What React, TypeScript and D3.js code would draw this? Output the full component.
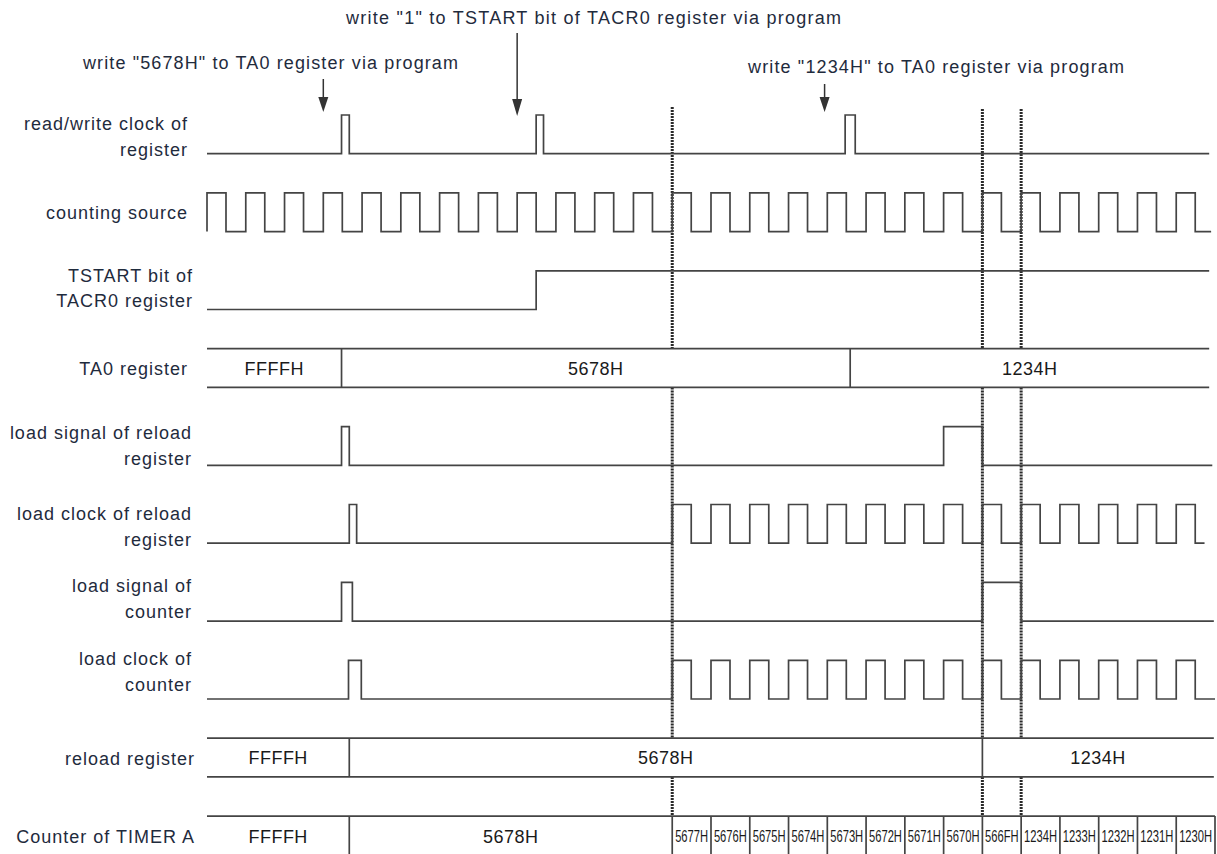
import React from 'react';
import * as d3 from 'd3';

// ---------- data (time unit = one period of the counting source) ----------
const ROW_LABELS: string[][] = [
  ['read/write clock of', 'register'],
  ['counting source'],
  ['TSTART bit of', 'TACR0 register'],
  ['TA0 register'],
  ['load signal of reload', 'register'],
  ['load clock of reload', 'register'],
  ['load signal of', 'counter'],
  ['load clock of', 'counter'],
  ['reload register'],
  ['Counter of TIMER A'],
];

const RW_CLOCK_PULSES: [number, number][] = [[3.47, 3.67], [8.49, 8.68], [16.46, 16.72]];
const COUNT_SOURCE_RISES = [0, 1, 2, 3, 4, 5, 6, 7, 8, 9, 10, 11, 12, 13, 14, 15, 16, 17, 18, 19, 20, 21, 22, 23, 24, 25];
const CLOCK_HIGH = 0.49;
const TSTART_PULSES: [number, number][] = [[8.49, 30]];
const TA0_EDGES = [3.47, 16.59];
const TA0_VALUES = ['FFFFH', '5678H', '1234H'];
const RELOAD_SIGNAL_PULSES: [number, number][] = [[3.47, 3.67], [19.0, 20.0]];
const RELOAD_CLOCK_PULSES: [number, number][] = [[3.67, 3.86]];
const RELOAD_CLOCK_RISES = [12, 13, 14, 15, 16, 17, 18, 19, 20, 21, 22, 23, 24, 25];
const COUNTER_SIGNAL_PULSES: [number, number][] = [[3.47, 3.75], [20.0, 21.0]];
const COUNTER_CLOCK_PULSES: [number, number][] = [[3.65, 3.98]];
const COUNTER_CLOCK_RISES = [12, 13, 14, 15, 16, 17, 18, 19, 20, 21, 22, 23, 24, 25];
const RELOAD_REG_EDGES = [3.67, 20.0];
const RELOAD_REG_VALUES = ['FFFFH', '5678H', '1234H'];
const COUNTER_EDGES = [3.67, 12, 13, 14, 15, 16, 17, 18, 19, 20, 21, 22, 23, 24, 25, 26];
const COUNTER_VALUES = ['FFFFH', '5678H', '5677H', '5676H', '5675H', '5674H', '5673H', '5672H', '5671H', '5670H', '566FH', '1234H', '1233H', '1232H', '1231H', '1230H'];
const MARKER_TIMES = [12, 20, 21];
const ROW_ENDS = [25.85, 25.9, 25.85, 25.85, 25.93, 25.73, 25.97, 26.0, 25.97, 26.0];

const ANNOTATIONS = [
  { text: 'write "5678H" to TA0 register via program', t: 3.0 },
  { text: 'write "1" to TSTART bit of TACR0 register via program', t: 8.0 },
  { text: 'write "1234H" to TA0 register via program', t: 15.93 },
];

// ---------- layout / style ----------
const W = 1217, H = 854;
const ROW_H = 38.7;
const WAVE = '#444444';
const TEXT = '#1f2b3d';
const FONT = '"Liberation Sans", Arial, Helvetica, sans-serif';
const LABEL_X = [188, 188, 193, 188, 192, 192, 192, 192, 195, 195];
const LABEL_CY = [[123, 149], [212], [275, 300], [368.5], [432, 458], [513, 539], [585, 611], [658, 684], [758], [836]];
const ANN_LAYOUT = [
  { x: 83, y: 69, w: 375, top: 79, headTop: 97, tip: 112 },
  { x: 346, y: 24, w: 495, top: 33, headTop: 99, tip: 116 },
  { x: 748, y: 73, w: 376, top: 84, headTop: 97, tip: 112 },
];
const MARKER_TOPS = [107, 109, 109];

export default function App() {
  const x = d3.scaleLinear().domain([0, 26]).range([207, 1215]);
  const rowTop = d3.scaleLinear().domain([0, 1]).range([115, 192.9]);
  const line = d3.line<[number, number]>().x(d => x(d[0])).y(d => d[1]).curve(d3.curveStepAfter);

  const wave = (row: number, pulses: [number, number][]) => {
    const hi = rowTop(row), lo = hi + ROW_H, end = ROW_ENDS[row];
    const pts: [number, number][] = [[0, lo]];
    let level = lo;
    pulses.forEach(([a, b]) => {
      pts.push([a, hi]); level = hi;
      if (b < end) { pts.push([b, lo]); level = lo; }
    });
    pts.push([end, level]);
    return <path key={'w' + row} d={line(pts) || ''} fill="none" stroke={WAVE} strokeWidth={1.7} />;
  };
  const clockPulses = (rises: number[]): [number, number][] => rises.map(r => [r, r + CLOCK_HIGH]);

  const bus = (row: number, edges: number[], values: string[], open = false) => {
    const top = rowTop(row), bot = top + ROW_H, end = ROW_ENDS[row];
    const bounds = [0, ...edges.filter(e => e < end), end];
    const els: JSX.Element[] = [];
    els.push(<line key="t" x1={x(0)} x2={x(end)} y1={top} y2={top} stroke={WAVE} strokeWidth={1.7} />);
    if (!open) els.push(<line key="b" x1={x(0)} x2={x(end)} y1={bot} y2={bot} stroke={WAVE} strokeWidth={1.7} />);
    edges.forEach((e, i) => els.push(
      <line key={'e' + i} x1={x(e)} x2={x(e)} y1={top} y2={open ? H : bot} stroke={WAVE} strokeWidth={1.7} />));
    values.forEach((v, i) => {
      const a = x(bounds[i]), b = x(bounds[i + 1]);
      const cx = (a + b) / 2;
      const cy = (open ? 836 : top + ROW_H / 2) + 6.5;
      const narrow = b - a < 45;
      if (narrow) {
        els.push(
          <text key={'v' + i} transform={`translate(${cx},${cy - 0.5}) scale(0.7,1)`} textAnchor="middle"
            fontSize={16} fill="#1a1a1a" fontFamily={FONT}>{v}</text>);
      } else {
        els.push(
          <text key={'v' + i} x={cx} y={cy} textAnchor="middle"
            fontSize={18} fill="#1a1a1a" fontFamily={FONT} letterSpacing={0.5}>{v}</text>);
      }
    });
    return <g key={'bus' + row}>{els}</g>;
  };

  const taTop = rowTop(3), taBot = taTop + ROW_H;
  const rrTop = rowTop(8), rrBot = rrTop + ROW_H;
  const ctTop = rowTop(9);

  return (
    <svg width={W} height={H} style={{ position: 'absolute', left: 0, top: 0, background: '#fff' }}>
      <rect width={W} height={H} fill="#fff" />
      {/* marker dashed lines */}
      {MARKER_TIMES.map((t, i) => {
        const segs: [number, number][] = [[MARKER_TOPS[i], taTop], [taBot, rrTop], [rrBot, ctTop]];
        return segs.map((s, j) => (
          <line key={'m' + i + '_' + j} x1={x(t)} x2={x(t)} y1={s[0]} y2={s[1]}
            stroke="#2a2a2a" strokeWidth={3} strokeDasharray="2 1" />
        ));
      })}
      {wave(0, RW_CLOCK_PULSES)}
      {wave(1, clockPulses(COUNT_SOURCE_RISES))}
      {wave(2, TSTART_PULSES)}
      {bus(3, TA0_EDGES, TA0_VALUES)}
      {wave(4, RELOAD_SIGNAL_PULSES)}
      {wave(5, [...RELOAD_CLOCK_PULSES, ...clockPulses(RELOAD_CLOCK_RISES)])}
      {wave(6, COUNTER_SIGNAL_PULSES)}
      {wave(7, [...COUNTER_CLOCK_PULSES, ...clockPulses(COUNTER_CLOCK_RISES)])}
      {bus(8, RELOAD_REG_EDGES, RELOAD_REG_VALUES)}
      {bus(9, COUNTER_EDGES, COUNTER_VALUES, true)}
      {/* row labels */}
      {ROW_LABELS.map((lines, r) => lines.map((s, k) => (
        <text key={'l' + r + '_' + k} x={LABEL_X[r]} y={LABEL_CY[r][k] + 6.5} textAnchor="end"
          fontSize={18} letterSpacing={1} fill={TEXT} fontFamily={FONT}>{s}</text>
      )))}
      {/* annotations */}
      {ANNOTATIONS.map((a, i) => {
        const L = ANN_LAYOUT[i];
        const ax = x(a.t);
        return (
          <g key={'a' + i}>
            <text x={L.x} y={L.y} fontSize={18} fill={TEXT} fontFamily={FONT}
              textLength={L.w} lengthAdjust="spacing">{a.text}</text>
            <line x1={ax} x2={ax} y1={L.top} y2={L.headTop + 1} stroke="#333" strokeWidth={1.5} />
            <path d={`M${ax - 5},${L.headTop} L${ax + 5},${L.headTop} L${ax},${L.tip} Z`} fill="#333" />
          </g>
        );
      })}
    </svg>
  );
}
